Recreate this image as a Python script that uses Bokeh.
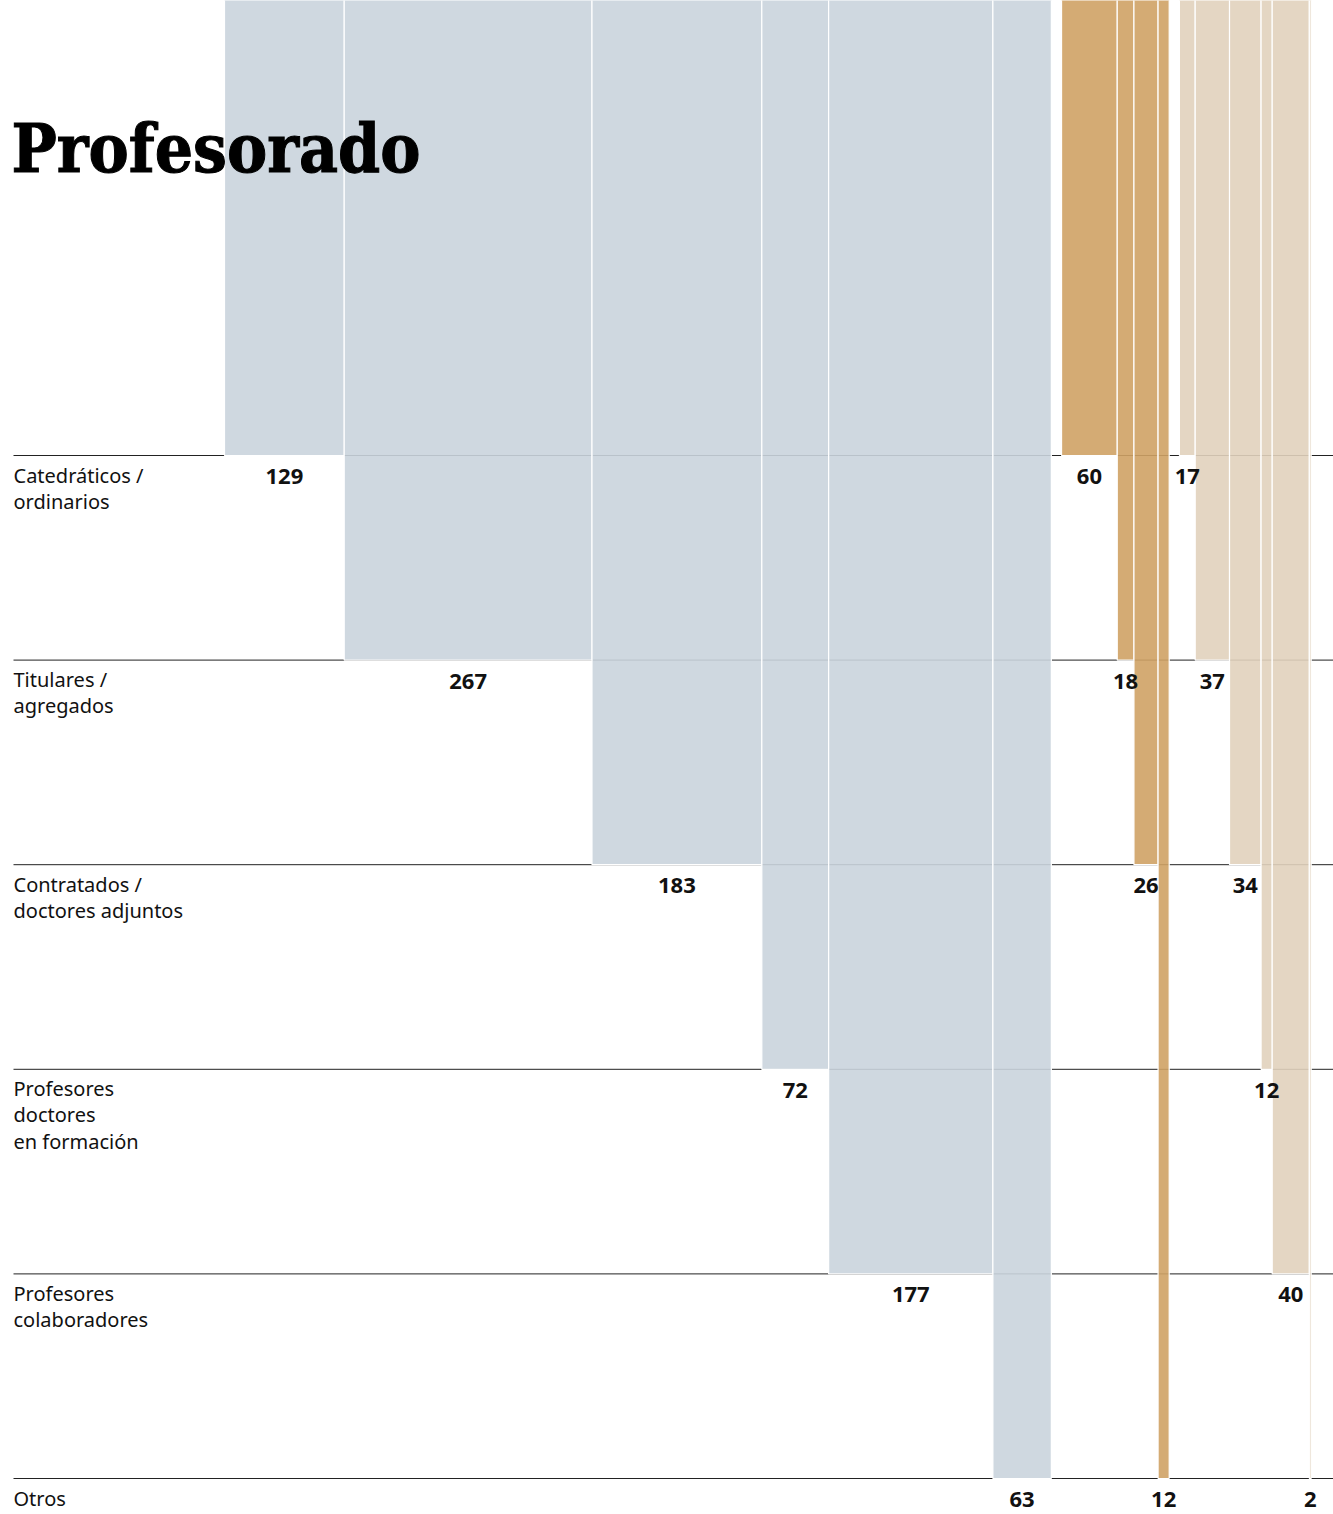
from bokeh.plotting import figure
from bokeh.models import Range1d, ColumnDataSource
from bokeh.core.properties import value
from bokeh.embed import file_html
from bokeh.resources import INLINE

# ---------------- data ----------------
title = "Profesorado"
categories = [
    "Catedráticos /\nordinarios",
    "Titulares /\nagregados",
    "Contratados /\ndoctores adjuntos",
    "Profesores\ndoctores\nen formación",
    "Profesores\ncolaboradores",
    "Otros",
]
grupo_gris = [129, 267, 183, 72, 177, 63]
grupo_oscuro = [60, 18, 26, None, None, 12]
grupo_claro = [17, 37, 34, 12, 40, 2]

# ---------------- layout constants ----------------
W, H = 1333, 1514
PX_X = 0.928                      # pixels per unit on x
X0 = -224 / PX_X                  # left edge of plot in units
GAP = 11                          # gap between groups, units
PX_Y = 204.6                      # pixels per row
Y_TOP = 1 - 455 / PX_Y
Y_BOT = Y_TOP + H / PX_Y

COL_GRIS = "#cad4dd"
COL_OSC = "#cfa265"
COL_CLARO = "#e1d1bd"

p = figure(width=W, height=H, output_backend="svg", toolbar_location=None,
           x_range=Range1d(X0, X0 + W / PX_X), y_range=Range1d(Y_BOT, Y_TOP),
           x_axis_location=None, y_axis_location=None, min_border=0,
           outline_line_color=None, background_fill_color="white",
           border_fill_color="white")
p.grid.visible = False

rows = list(range(1, len(categories) + 1))

# row lines (underneath columns)
p.segment(x0=[X0 + 13 / PX_X] * len(rows), x1=[X0 + 1400 / PX_X] * len(rows),
          y0=rows, y1=rows, line_color="#222222", line_width=1)

def build(values, start):
    left, right, bottom, labels, cx = [], [], [], [], []
    pos = start
    for i, v in enumerate(values):
        if v is None:
            continue
        left.append(pos)
        right.append(pos + v)
        bottom.append(rows[i])
        labels.append(str(v))
        cx.append(pos + v / 2)
        pos += v
    return dict(left=left, right=right, bottom=bottom,
                top=[Y_TOP - 0.5] * len(left), label=labels, cx=cx), pos

src_g, end_g = build(grupo_gris, 0)
src_o, end_o = build(grupo_oscuro, end_g + GAP)
src_c, end_c = build(grupo_claro, end_o + GAP)

DY = 21 / PX_Y
for d, col in ((src_g, COL_GRIS), (src_o, COL_OSC), (src_c, COL_CLARO)):
    s = ColumnDataSource(d)
    p.quad(left="left", right="right", top="top", bottom="bottom", source=s,
           fill_color=col, fill_alpha=0.9, line_color="white", line_width=1.2)

for d in (src_g, src_o, src_c):
    s = ColumnDataSource(dict(x=d["cx"], y=[b + DY for b in d["bottom"]],
                              t=d["label"]))
    p.text(x="x", y="y", text="t", source=s, text_align="center",
           text_baseline="middle", text_font=value("Noto Sans"),
           text_font_style="bold", text_font_size="22px", text_color="#111111")

# row labels
lab = ColumnDataSource(dict(x=[X0 + 13 / PX_X] * len(rows),
                            y=[r + 6 / PX_Y for r in rows], t=categories))
p.text(x="x", y="y", text="t", source=lab, text_align="left",
       text_baseline="top", text_font=value("Noto Sans"),
       text_font_size="20px", text_color="#111111", text_line_height=0.97)

# title
p.text(x=[X0 + 11 / PX_X], y=[Y_TOP + 148 / PX_Y], text=[title],
       text_align="left", text_baseline="alphabetic",
       text_font=value("DejaVu Serif Condensed"), text_font_style="bold",
       text_font_size="67px", text_color="#000000",
       text_outline_color="#000000")

open("out.html", "w").write(file_html(p, INLINE))
